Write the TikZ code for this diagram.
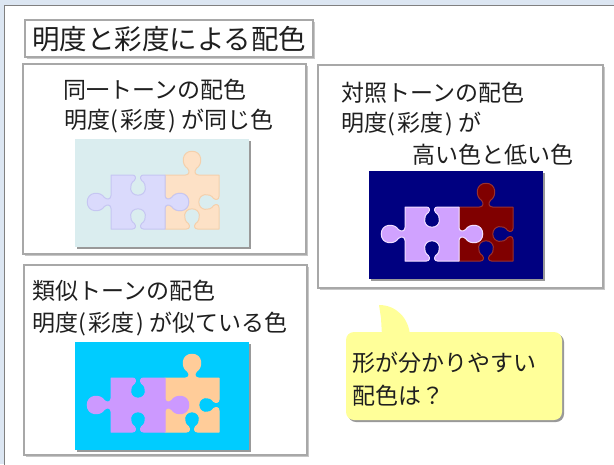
\documentclass[tikz,border=0pt]{standalone}
\usepackage{fontspec}
\setmainfont{Noto Sans CJK JP}

\definecolor{deskblue}{HTML}{DCE6F2}
\definecolor{panelline}{HTML}{A8A8A8}
\definecolor{calloutfill}{HTML}{FFFF99}
% same-tone scheme
\definecolor{paleBg}{HTML}{DAEDEF}
\definecolor{paleViolet}{HTML}{DADAFC}
\definecolor{paleVioletEdge}{HTML}{C6C6F2}
\definecolor{palePeach}{HTML}{FDE1C6}
\definecolor{palePeachEdge}{HTML}{F4D0AC}
% contrast scheme
\definecolor{navyBg}{HTML}{000080}
\definecolor{lilac}{HTML}{D0A2FF}
\definecolor{lilacEdge}{HTML}{F2DEFF}
\definecolor{maroonPc}{HTML}{800000}
\definecolor{maroonEdge}{HTML}{983030}
% similar-tone scheme
\definecolor{skyBg}{HTML}{00CCFF}
\definecolor{violetPc}{HTML}{CC99FF}
\definecolor{peachPc}{HTML}{FFCC99}

% jigsaw edge maps: #1 = outward sign, #2 = u along edge, #3 = v outward
\newcommand\pzT[3]{({#2},{-(#1)*(#3)})}
\newcommand\pzR[3]{({1+(#1)*(#3)},{#2})}
\newcommand\pzB[3]{({1-(#2)},{1+(#1)*(#3)})}
\newcommand\pzL[3]{({-(#1)*(#3)},{1-(#2)})}
% knob point: #1 map, #2 sign, #3 size, #4 u, #5 v
\newcommand\pzp[5]{#1{#2}{0.5+(#3)*((#4)-0.5)}{(#3)*(#5)}}
% one edge with a knob: #1 map, #2 sign (+1 tab, -1 blank), #3 size
\newcommand\pzedge[3]{%
 -- \pzp#1{#2}{#3}{0.38}{0}
 .. controls \pzp#1{#2}{#3}{0.45}{0} and \pzp#1{#2}{#3}{0.46}{0.07} .. \pzp#1{#2}{#3}{0.42}{0.12}
 .. controls \pzp#1{#2}{#3}{0.29}{0.20} and \pzp#1{#2}{#3}{0.31}{0.44} .. \pzp#1{#2}{#3}{0.5}{0.44}
 .. controls \pzp#1{#2}{#3}{0.69}{0.44} and \pzp#1{#2}{#3}{0.71}{0.20} .. \pzp#1{#2}{#3}{0.58}{0.12}
 .. controls \pzp#1{#2}{#3}{0.54}{0.07} and \pzp#1{#2}{#3}{0.55}{0} .. \pzp#1{#2}{#3}{0.62}{0}
 -- #1{#2}{1}{0}}

% picture of two interlocking pieces: #1,#2 position, #3 background,
% #4/#5 left piece fill/edge, #6/#7 right piece fill/edge
\newcommand\puzzleimg[7]{%
 \begin{scope}[shift={(#1,#2)}]
  \fill[black!40] (2,2) rectangle (176,110);
  \fill[#3] (0,0) rectangle (174,108);
  \begin{scope}[shift={(90,36)},scale=54]
   \filldraw[fill=#6, draw=#7, line width=1pt, line join=round]
     (0,0) \pzedge\pzT{1}{1} \pzedge\pzR{-1}{0.85} \pzedge\pzB{-1}{0.85} \pzedge\pzL{-1}{1} -- cycle;
  \end{scope}
  \begin{scope}[shift={(36,36)},scale=54]
   \filldraw[fill=#4, draw=#5, line width=1pt, line join=round]
     (0,0) \pzedge\pzT{-1}{0.85} \pzedge\pzR{1}{1} \pzedge\pzB{-1}{0.85} \pzedge\pzL{1}{1} -- cycle;
  \end{scope}
 \end{scope}}

% parenthesised word with a little air inside the brackets
\newcommand\paren[1]{(\kern2.5pt#1\kern2.5pt)}

\begin{document}
\begin{tikzpicture}[x=1pt,y=-1pt,
  panel/.style={draw=panelline, line width=1.3pt, fill=white},
  panelshadow/.style={fill=black!22},
  txt/.style={anchor=base west, inner sep=0pt, text=black!88,
              font=\fontsize{23}{28}\selectfont},
  titletxt/.style={anchor=base west, inner sep=0pt, text=black!88,
              font=\fontsize{27.5}{32}\selectfont}]
\useasboundingbox (0,0) rectangle (614,464);

% slide background and sheet
\fill[deskblue] (0,0) rectangle (614,464);
\filldraw[fill=white, draw=black!50, line width=1.5pt] (4.5,5.5) rectangle (640,490);

% title
\fill[panelshadow] (26.5,21.5) rectangle (314.5,58.5);
\filldraw[panel] (25,20) rectangle (313,57);
\node[titletxt] (title) at (32,49) {明度と彩度による配色};

% same tone panel
\fill[panelshadow] (24.5,65.5) rectangle (307.5,255.5);
\filldraw[panel] (23,64) rectangle (306,254);
\node[txt] (sameA) at (63,98) {同一トーンの配色};
\node[txt] (sameB) at (64,128) {明度\paren{彩度} が同じ色};
\puzzleimg{75}{139}{paleBg}{paleViolet}{paleVioletEdge}{palePeach}{palePeachEdge}

% contrast panel
\fill[panelshadow] (319.5,66.5) rectangle (604.5,289.5);
\filldraw[panel] (318,65) rectangle (603,288);
\node[txt] (contA) at (341,101) {対照トーンの配色};
\node[txt] (contB) at (341,131) {明度\paren{彩度} が};
\node[txt] (contC) at (412,163) {高い色と低い色};
\puzzleimg{369}{171}{navyBg}{lilac}{lilacEdge}{maroonPc}{maroonEdge}

% similar tone panel
\fill[panelshadow] (25.5,266.5) rectangle (308.5,456.5);
\filldraw[panel] (24,265) rectangle (307,455);
\node[txt] (simA) at (32,299) {類似トーンの配色};
\node[txt] (simB) at (32,331) {明度\paren{彩度} が似ている色};
\puzzleimg{75}{342}{skyBg}{violetPc}{violetPc}{peachPc}{peachPc}

% speech bubble
\fill[black!40, rounded corners=8pt] (348,334) rectangle (564,422);
\fill[calloutfill, rounded corners=8pt] (346,332) rectangle (562,420);
\fill[calloutfill] (382,336) -- (381,318) .. controls (380.5,312) .. (379,305)
  .. controls (396,305) and (409,318) .. (410,336) -- cycle;
\node[txt] (askA) at (352,371) {形が分かりやすい};
\node[txt] (askB) at (352,404) {配色は？};
\end{tikzpicture}
\end{document}
